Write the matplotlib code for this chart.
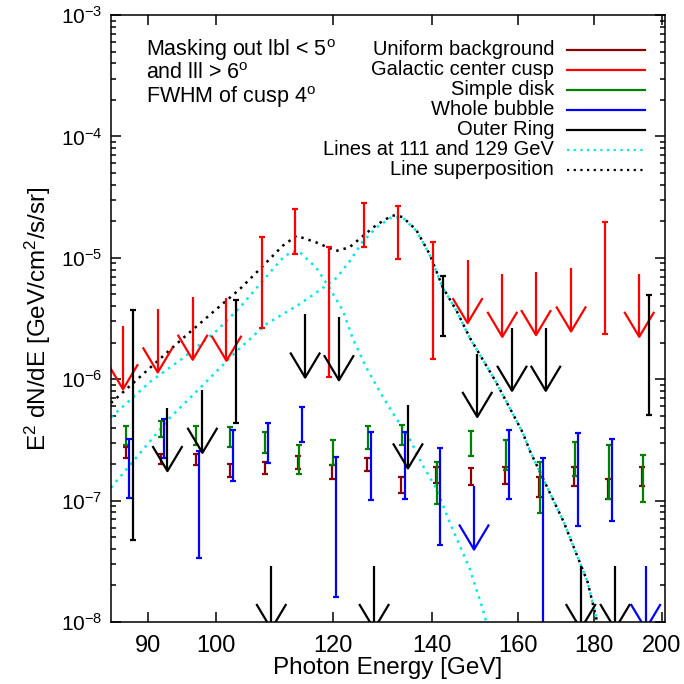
import numpy as np
import matplotlib
matplotlib.use('Agg')
import matplotlib.pyplot as plt
from matplotlib.ticker import FixedLocator, FixedFormatter, NullLocator, LogLocator, NullFormatter

plt.rcParams['font.family'] = ['Liberation Sans', 'DejaVu Sans']
plt.rcParams['mathtext.fontset'] = 'custom'
plt.rcParams['mathtext.rm'] = 'Liberation Sans'
plt.rcParams['mathtext.it'] = 'Liberation Sans:italic'
plt.rcParams['mathtext.default'] = 'regular'

# energy bins [GeV]
energy = np.array([86.6, 91.4, 96.5, 101.7, 107.4, 113.2, 119.3, 126.0,
                   132.8, 140.2, 147.9, 156.1, 164.5, 173.7, 183.2, 193.1])

nan = np.nan
# top / bottom of each bar, bottom = nan -> upper limit arrow
cusp_hi = np.array([2.74e-6, 3.77e-6, 4.79e-6, 4.7e-6, 1.49e-5, 2.52e-5, 1.23e-5, 2.81e-5,
                    2.69e-5, 1.36e-5, 9.6e-6, 7.4e-6, 7.65e-6, 8.2e-6, 1.96e-5, 7.4e-6])
cusp_lo = np.array([nan, nan, nan, nan, 2.65e-6, 1.07e-5, 1.04e-6, 1.23e-5,
                    9.75e-6, 1.46e-6, nan, nan, nan, nan, 2.37e-6, nan])

uniform_hi = np.array([2.74e-7, 2.42e-7, 2.42e-7, 2.0e-7, 2.1e-7, 2.31e-7, 1.97e-7, 2.24e-7,
                       1.58e-7, 1.88e-7, 1.86e-7, 1.91e-7, 1.58e-7, 1.88e-7, 1.51e-7, 1.88e-7])
uniform_lo = np.array([2.24e-7, 2.0e-7, 1.95e-7, 1.58e-7, 1.65e-7, 1.83e-7, 1.51e-7, 1.74e-7,
                       1.15e-7, 1.41e-7, 1.35e-7, 1.36e-7, 1.08e-7, 1.31e-7, 1.03e-7, 1.31e-7])

disk_hi = np.array([4.09e-7, 4.55e-7, 4.09e-7, 4.01e-7, 3.67e-7, 2.85e-7, 3.17e-7, 4.09e-7,
                    4.17e-7, 2.1e-7, 3.72e-7, 3.17e-7, 2.07e-7, 3.03e-7, 2.88e-7, 2.39e-7])
disk_lo = np.array([2.85e-7, 3.32e-7, 2.88e-7, 2.79e-7, 2.46e-7, 1.65e-7, 1.97e-7, 2.67e-7,
                    2.85e-7, 9.3e-8, 2.31e-7, 1.79e-7, 7.96e-8, 1.6e-7, 1.03e-7, 9.8e-8])

bubble_hi = np.array([3.24e-7, 4.73e-7, 2.54e-7, 3.84e-7, 4.35e-7, 5.9e-7, 2.28e-7, 3.67e-7,
                      3.67e-7, 2.71e-7, 1.31e-7, 3.84e-7, 2.24e-7, 3.6e-7, 3.21e-7, 2.9e-8])
bubble_lo = np.array([1.06e-7, 2.26e-7, 3.4e-8, 1.44e-7, 2.03e-7, 3.03e-7, 1.61e-8, 1.01e-7,
                      1.03e-7, 4.3e-8, nan, 1.03e-7, 1e-9, 6.2e-8, 6.8e-8, nan])

ring_hi = np.array([3.72e-6, 5.8e-7, 8.2e-7, 4.5e-6, 2.9e-8, 3.42e-6, 3.25e-6, 2.9e-8,
                    6.1e-7, 7.1e-6, 1.62e-6, 2.66e-6, 2.66e-6, 2.9e-8, 2.9e-8, 4.92e-6])
ring_lo = np.array([4.73e-8, nan, nan, 4.35e-7, nan, nan, nan, nan,
                    nan, 2.27e-6, nan, nan, nan, nan, nan, 5.1e-7])

# line templates
line111_e = [85.0, 90.3, 95.1, 100.1, 103.8, 107.1, 111.0, 112.6, 114.0, 116.9, 119.3, 121.9,
             123.7, 126.4, 129.0, 131.6, 135.1, 137.9, 140.9, 143.8, 148.4, 151.4, 152.9]
line111 = [4.85e-7, 9.5e-7, 1.5e-6, 2.49e-6, 3.88e-6, 6.07e-6, 1.0e-5, 1.13e-5, 1.11e-5, 8.3e-6,
           5.69e-6, 3.65e-6, 2.19e-6, 1.24e-6, 7.96e-7, 5.33e-7, 3.27e-7, 1.97e-7, 1.26e-7,
           6.7e-8, 2.75e-8, 1.29e-8, 8.3e-9]

line129_e = [85.0, 93.1, 97.6, 103.3, 108.2, 114.0, 118.1, 120.6, 123.1, 125.6, 128.4, 131.6,
             133.7, 136.6, 139.4, 142.3, 145.4, 148.4, 154.5, 161.1, 163.0, 171.7, 178.2, 180.9]
line129 = [1.28e-7, 4.79e-7, 8.47e-7, 1.7e-6, 2.85e-6, 4.17e-6, 5.65e-6, 6.8e-6, 9.3e-6,
           1.35e-5, 1.78e-5, 2.18e-5, 2.15e-5, 1.67e-5, 1.07e-5, 5.69e-6, 3.65e-6, 2.19e-6,
           9.6e-7, 3.65e-7, 2.54e-7, 6.7e-8, 2.14e-8, 1.0e-8]

sum_e = [85.0, 90.3, 95.1, 100.1, 103.8, 107.1, 111.0, 113.4, 116.9, 120.6, 123.1, 125.6, 128.4,
         131.6, 133.7, 136.6, 139.4, 142.3, 145.4, 148.4, 154.5, 161.1, 163.0, 171.7, 178.2, 180.9]
line_sum = [6.37e-7, 1.24e-6, 2.19e-6, 3.77e-6, 5.51e-6, 8.07e-6, 1.26e-5, 1.52e-5, 1.34e-5,
            1.14e-5, 1.22e-5, 1.5e-5, 1.87e-5, 2.24e-5, 2.17e-5, 1.69e-5, 1.08e-5, 5.72e-6,
            3.66e-6, 2.2e-6, 9.6e-7, 3.65e-7, 2.54e-7, 6.7e-8, 2.14e-8, 1.0e-8]

xticks = [90, 100, 120, 140, 160, 180, 200]

DARKRED = '#8B0000'
GREEN = '#008000'
CYAN = '#00E8E8'
DOT = (0, (1, 2))
LW = 1.6


def draw_series(ax, e, hi, lo, color, shift):
    x = e * shift
    bar = ~np.isnan(lo)
    ax.errorbar(x[bar], lo[bar], yerr=[np.zeros(bar.sum()), hi[bar] - lo[bar]],
                fmt='none', ecolor=color, elinewidth=LW, capsize=2.3, capthick=LW)
    # upper limits: shaft + V head
    for xi, ui in zip(x[~bar], hi[~bar]):
        tip = ui * 10 ** -0.52
        wing = tip * 10 ** 0.206
        ax.plot([xi, xi], [ui, tip], color=color, lw=LW, solid_capstyle='butt')
        ax.plot([xi / 1.0235, xi, xi * 1.0235], [wing, tip, wing], color=color, lw=LW,
                solid_capstyle='butt')


fig = plt.figure(figsize=(6.84, 6.84), dpi=100)
ax = fig.add_axes([0.1623, 0.0906, 0.81, 0.8874])

ax.plot(line111_e, line111, color=CYAN, ls=DOT, lw=1.8)
ax.plot(line129_e, line129, color=CYAN, ls=DOT, lw=1.8)
ax.plot(sum_e, line_sum, color='black', ls=DOT, lw=1.8)

draw_series(ax, energy, cusp_hi, cusp_lo, 'red', 1.0)
draw_series(ax, energy, uniform_hi, uniform_lo, DARKRED, 1.0047)
draw_series(ax, energy, disk_hi, disk_lo, GREEN, 1.0054)
draw_series(ax, energy, bubble_hi, bubble_lo, 'blue', 1.0101)
draw_series(ax, energy, ring_hi, ring_lo, 'black', 1.0152)

ax.set_xscale('log')
ax.set_yscale('log')
ax.set_xlim(85, 201)
ax.set_ylim(1e-8, 1e-3)
ax.xaxis.set_major_locator(FixedLocator(xticks))
ax.xaxis.set_major_formatter(FixedFormatter([str(t) for t in xticks]))
ax.xaxis.set_minor_locator(NullLocator())
ax.yaxis.set_major_locator(LogLocator(base=10))
ax.yaxis.set_minor_locator(LogLocator(base=10, subs=np.arange(2, 10)))
ax.yaxis.set_minor_formatter(NullFormatter())

ax.tick_params(which='both', direction='in', top=True, right=True, width=1.1)
ax.tick_params(which='major', length=7.5)
ax.tick_params(which='minor', length=3.8)
ax.tick_params(axis='x', labelsize=17, pad=9)
ax.tick_params(axis='y', labelsize=15, pad=6)
for s in ax.spines.values():
    s.set_linewidth(1.1)

ax.set_xlabel('Photon Energy [GeV]', fontsize=17.5, labelpad=0)
ax.set_ylabel('E$^2$ dN/dE [GeV/cm$^2$/s/sr]', fontsize=17.5, labelpad=6)

# annotation, one block of three lines (baseline = last line)
notes = ['Masking out lbl < 5$^o$', 'and lll > 6$^o$', 'FWHM of cusp 4$^o$']
ax.text(0.064, 0.855, '\n'.join(notes), transform=ax.transAxes, fontsize=15.5,
        ha='left', va='baseline', linespacing=1.0)

# legend, text right-aligned with line sample on the right
leg_labels = ['Uniform background', 'Galactic center cusp', 'Simple disk', 'Whole bubble',
              'Outer Ring', 'Lines at 111 and 129 GeV', 'Line superposition']
leg_colors = [DARKRED, 'red', GREEN, 'blue', 'black', CYAN, 'black']
leg_styles = ['-', '-', '-', '-', '-', DOT, DOT]
for i, (lab, c, s) in enumerate(zip(leg_labels, leg_colors, leg_styles)):
    y = 0.9423 - i * 0.033
    ax.text(0.8, y - 0.0082, lab, transform=ax.transAxes, fontsize=14.5,
            ha='right', va='baseline')
    ax.plot([0.823, 0.964], [y, y], transform=ax.transAxes, color=c, ls=s, lw=1.6)

fig.savefig('out.png', dpi=100)
